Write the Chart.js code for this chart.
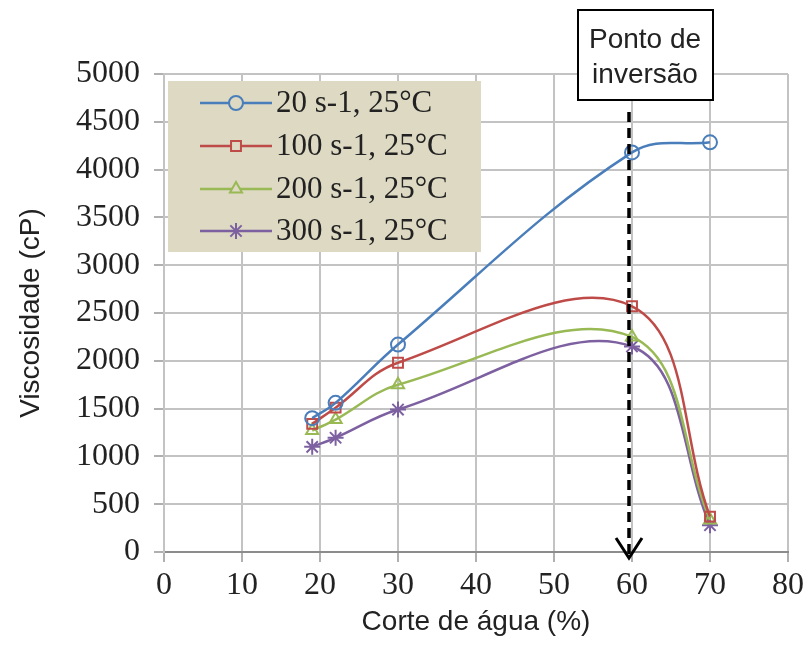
<!DOCTYPE html>
<html>
<head>
<meta charset="utf-8">
<script src="https://cdn.jsdelivr.net/npm/chart.js@4"></script>
<style>
  body { margin: 0; background: #fff; }
  canvas { display: block; }
</style>
</head>
<body>
<canvas id="grafico" width="808" height="651"></canvas>
<script>
// corte de agua (%) onde as medidas foram feitas
const corteAgua = [19, 22, 30, 60, 70]
// viscosidade (cP) para cada taxa de cisalhamento
const visc20 = [1400, 1560, 2170, 4180, 4285]
const visc100 = [1340, 1510, 1980, 2570, 370]
const visc200 = [1270, 1385, 1750, 2250, 335]
const visc300 = [1100, 1195, 1490, 2150, 280]

const rotulos = ['20 s-1, 25°C', '100 s-1, 25°C', '200 s-1, 25°C', '300 s-1, 25°C']
const cores = ['#4a7ebb', '#be4b48', '#98b954', '#7d60a0']
const marcadores = ['circle', 'rect', 'triangle', 'star']

const xTicks = [0, 10, 20, 30, 40, 50, 60, 70, 80]
const yTicks = [0, 500, 1000, 1500, 2000, 2500, 3000, 3500, 4000, 4500, 5000]

const pontoInversao = 60
const textoInversao = ['Ponto de', 'inversão']

const series = [visc20, visc100, visc200, visc300]

const datasets = series.map((vals, i) => ({
  label: rotulos[i],
  data: vals.map((v, j) => ({x: corteAgua[j], y: v})),
  borderColor: cores[i],
  backgroundColor: 'transparent',
  borderWidth: 2.5,
  tension: 0.38,
  pointStyle: marcadores[i],
  pointRadius: i == 3 ? 8 : 7,
  pointBorderWidth: 2,
  pointBorderColor: cores[i],
  pointBackgroundColor: 'transparent'
}))

// legenda desenhada dentro da area do grafico, como no excel
const legendaPlugin = {
  id: 'legendaCaixa',
  afterDatasetsDraw(chart) {
    const ctx = chart.ctx
    ctx.save()
    ctx.fillStyle = '#ddd9c3'
    ctx.fillRect(168, 81, 313, 171)
    const linhas = [103, 146, 189, 231]
    chart.data.datasets.forEach((ds, i) => {
      const y = linhas[i]
      ctx.strokeStyle = ds.borderColor
      ctx.lineWidth = 2.5
      ctx.beginPath()
      ctx.moveTo(200, y)
      ctx.lineTo(272, y)
      ctx.stroke()
      if (Chart.helpers && Chart.helpers.drawPoint) {
        ctx.lineWidth = 2
        ctx.fillStyle = '#ddd9c3'
        ctx.strokeStyle = ds.borderColor
        Chart.helpers.drawPoint(ctx, {
          pointStyle: ds.pointStyle,
          radius: ds.pointRadius,
          rotation: 0,
          borderWidth: 2
        }, 236, y)
      }
      ctx.fillStyle = '#222'
      ctx.font = '31px "Liberation Serif"'
      ctx.textBaseline = 'middle'
      ctx.textAlign = 'left'
      ctx.fillText(ds.label, 276, y + 1)
    })
    ctx.restore()
  }
}

const inversaoPlugin = {
  id: 'inversao',
  afterDraw(chart) {
    const ctx = chart.ctx
    const x = chart.scales.x.getPixelForValue(pontoInversao) - 3
    const yFim = chart.scales.y.getPixelForValue(0) + 6
    ctx.save()
    ctx.strokeStyle = '#000'
    ctx.lineWidth = 3.5
    ctx.setLineDash([10, 6])
    ctx.beginPath()
    ctx.moveTo(x, 112)
    ctx.lineTo(x, yFim)
    ctx.stroke()
    ctx.setLineDash([])
    ctx.lineWidth = 3
    ctx.beginPath()
    ctx.moveTo(x - 13, yFim - 20)
    ctx.lineTo(x, yFim)
    ctx.lineTo(x + 13, yFim - 20)
    ctx.stroke()
    // caixa de texto
    ctx.fillStyle = '#fff'
    ctx.fillRect(578, 10, 135, 90)
    ctx.lineWidth = 2
    ctx.strokeRect(578, 10, 135, 90)
    ctx.fillStyle = '#222'
    ctx.font = '28px "Liberation Sans"'
    ctx.textAlign = 'center'
    ctx.textBaseline = 'middle'
    ctx.fillText(textoInversao[0], 645, 40)
    ctx.fillText(textoInversao[1], 645, 75)
    ctx.restore()
  }
}

onload = () => {
  const canvas = document.querySelector('#grafico')
  new Chart(canvas, {
    type: 'line',
    data: { datasets: datasets },
    plugins: [legendaPlugin, inversaoPlugin],
    options: {
      responsive: false,
      animation: false,
      layout: { padding: { top: 74, right: 20, bottom: 0, left: 0 } },
      plugins: { legend: { display: false }, tooltip: { enabled: false } },
      scales: {
        x: {
          type: 'linear',
          min: 0,
          max: 80,
          afterBuildTicks: (s) => { s.ticks = xTicks.map(v => ({value: v})) },
          afterFit: (s) => { s.height = 99 },
          grid: { color: '#c3c3c3', lineWidth: 2, tickLength: 10, tickColor: '#b0b0b0' },
          border: { color: '#8c8c8c', width: 2 },
          ticks: { color: '#222', font: { family: 'Liberation Serif', size: 32 }, padding: 4, maxRotation: 0,
            callback: (v) => String(v) },
          title: {
            display: true,
            text: 'Corte de água (%)',
            color: '#222',
            font: { family: 'Liberation Sans', size: 28 },
            padding: { top: 0, bottom: 12 }
          }
        },
        y: {
          min: 0,
          max: 5000,
          afterBuildTicks: (s) => { s.ticks = yTicks.map(v => ({value: v})) },
          afterFit: (s) => { s.width = 164 },
          grid: { color: '#c3c3c3', lineWidth: 2, tickLength: 10, tickColor: '#b0b0b0' },
          border: { color: '#c3c3c3', width: 2 },
          ticks: { color: '#222', font: { family: 'Liberation Serif', size: 32 }, padding: 14,
            callback: (v) => String(v) },
          title: {
            display: true,
            text: 'Viscosidade (cP)',
            color: '#222',
            font: { family: 'Liberation Sans', size: 28 },
            padding: { top: 14, bottom: 0 }
          }
        }
      }
    }
  })
}
</script>
</body>
</html>
